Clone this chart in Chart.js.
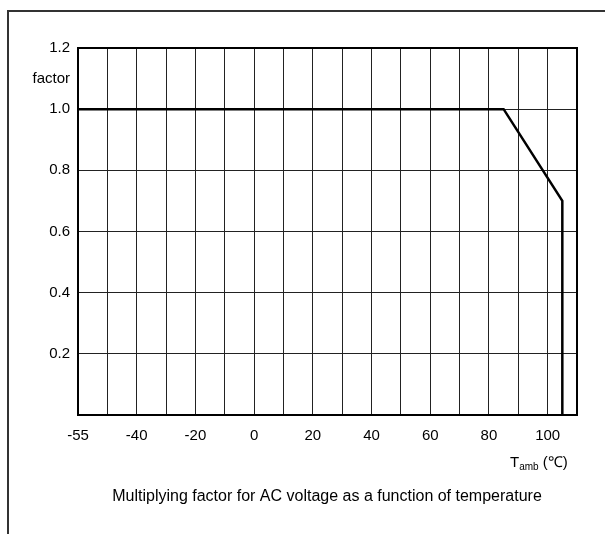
<!DOCTYPE html>
<html><head><meta charset="utf-8">
<script src="https://cdn.jsdelivr.net/npm/chart.js@4/dist/chart.umd.min.js"></script>
<style>
html,body{margin:0;padding:0;background:#fff;}
#wrap{position:relative;width:605px;height:534px;overflow:hidden;}
#frame{position:absolute;left:7px;top:10px;right:-5px;bottom:-5px;border-left:2px solid #333;border-top:2px solid #333;}
canvas{position:absolute;left:0;top:0;}
</style></head><body>
<div id="wrap"><div id="frame"></div><canvas id="c" width="605" height="534"></canvas></div>
<script>
// Temperature (axis units; the axis start is labelled -55)
const temperatureC = [-60, 85, 105, 105];
const factorValues = [1.0, 1.0, 0.7, 0.0];
const xTickLabels = {'-60':'-55','-40':'-40','-20':'-20','0':'0','20':'20','40':'40','60':'60','80':'80','100':'100'};
const yTickLabels = {2:'0.2',4:'0.4',6:'0.6',8:'0.8',10:'1.0',11:'factor',12:'1.2'};
const captionText = 'Multiplying factor for AC voltage as a function of temperature';
const axisTitleParts = ['T', 'amb', ' (\u2103)'];

const FONT = "'Liberation Sans', Arial, sans-serif";

const framePlugin = {
  id: 'plotFrame',
  afterDatasetsDraw(chart) {
    const {ctx, chartArea: a} = chart;
    ctx.save();
    ctx.strokeStyle = '#000';
    ctx.lineWidth = 2;
    ctx.strokeRect(a.left, a.top, a.right - a.left, a.bottom - a.top);
    ctx.restore();
  },
  afterDraw(chart) {
    const {ctx, chartArea: a} = chart;
    ctx.save();
    ctx.fillStyle = '#000';
    ctx.textBaseline = 'alphabetic';
    let x = a.right - 67;
    const yb = a.bottom + 52;
    ctx.font = '15px ' + FONT;
    ctx.fillText(axisTitleParts[0], x, yb);
    x += ctx.measureText(axisTitleParts[0]).width;
    ctx.font = '10px ' + FONT;
    ctx.fillText(axisTitleParts[1], x, yb + 3);
    x += ctx.measureText(axisTitleParts[1]).width;
    ctx.font = '15px ' + FONT;
    ctx.fillText(axisTitleParts[2], x, yb);
    // caption
    ctx.font = '16px ' + FONT;
    ctx.textAlign = 'center';
    ctx.textBaseline = 'middle';
    ctx.fillText(captionText, 327, a.bottom + 82);
    ctx.restore();
  }
};

new Chart(document.getElementById('c'), {
  type: 'line',
  data: {
    datasets: [{
      data: temperatureC.map((t, i) => ({x: t, y: factorValues[i]})),
      borderColor: '#000',
      borderWidth: 2.5,
      pointRadius: 0,
      tension: 0,
      fill: false,
      clip: false
    }]
  },
  options: {
    responsive: false,
    animation: false,
    devicePixelRatio: 1,
    layout: {padding: {left: 0, right: 28, top: 48, bottom: 30}},
    plugins: {
      legend: {display: false},
      tooltip: {enabled: false},
      title: {display: false}
    },
    scales: {
      x: {
        type: 'linear',
        min: -60, max: 110,
        afterFit(s) { s.height = 89; },
        ticks: {
          stepSize: 10, maxTicksLimit: 40, autoSkip: false, maxRotation: 0,
          padding: 12, color: '#000',
          font: {family: FONT, size: 15},
          callback: v => xTickLabels[String(v)] ?? ''
        },
        grid: {color: '#222', lineWidth: 1, drawTicks: false},
        border: {display: false}
      },
      y: {
        type: 'linear',
        min: 0, max: 1.2,
        afterFit(s) { s.width = 78; },
        ticks: {
          stepSize: 0.1, maxTicksLimit: 40, autoSkip: false,
          padding: 8, color: '#000',
          font: {family: FONT, size: 15},
          callback: v => yTickLabels[Math.round(v * 10)] ?? ''
        },
        grid: {
          drawTicks: false, lineWidth: 1,
          color: c => (Math.round(c.tick.value * 10) % 2 === 0) ? '#222' : 'rgba(0,0,0,0)'
        },
        border: {display: false}
      }
    }
  },
  plugins: [framePlugin]
});
</script>
</body></html>
